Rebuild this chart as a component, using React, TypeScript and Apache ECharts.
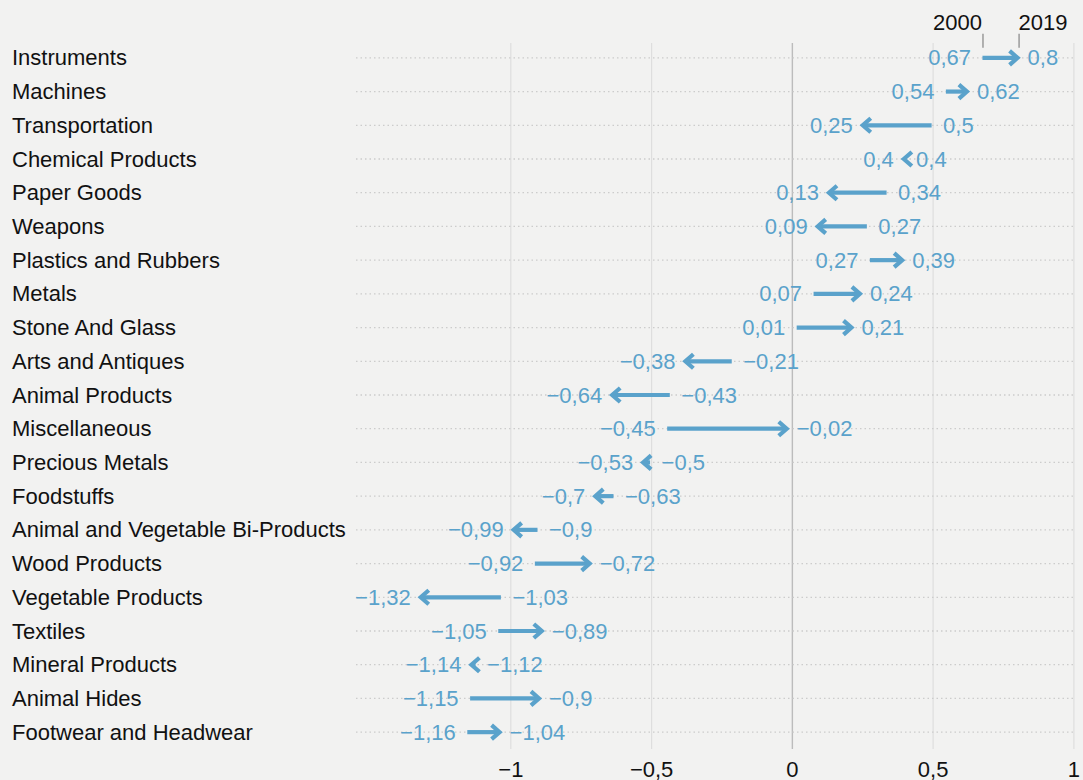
import React, { useEffect, useRef } from 'react';
import * as echarts from 'echarts';

const categories = [
  'Instruments',
  'Machines',
  'Transportation',
  'Chemical Products',
  'Paper Goods',
  'Weapons',
  'Plastics and Rubbers',
  'Metals',
  'Stone And Glass',
  'Arts and Antiques',
  'Animal Products',
  'Miscellaneous',
  'Precious Metals',
  'Foodstuffs',
  'Animal and Vegetable Bi-Products',
  'Wood Products',
  'Vegetable Products',
  'Textiles',
  'Mineral Products',
  'Animal Hides',
  'Footwear and Headwear',
];

const values2000 = [
  0.67, 0.54, 0.5, 0.404, 0.34, 0.27, 0.27, 0.07, 0.01, -0.21, -0.43,
  -0.45, -0.5, -0.63, -0.9, -0.92, -1.03, -1.05, -1.12, -1.15, -1.16,
];

const values2019 = [
  0.8, 0.62, 0.25, 0.396, 0.13, 0.09, 0.39, 0.24, 0.21, -0.38, -0.64,
  -0.02, -0.53, -0.7, -0.99, -0.72, -1.32, -0.89, -1.14, -0.9, -1.04,
];

const years = ['2000', '2019'];
const xTicks = [-1, -0.5, 0, 0.5, 1];
const xMin = -1.55;
const xMax = 1;

const BLUE = '#5aa2cb';
const TEXT = '#111111';
const BG = '#f2f2f1';
const FONT = '"Liberation Sans", Arial, Helvetica, sans-serif';
const FS = 22;

function fmt(v: number): string {
  const r = Math.round(v * 100) / 100;
  return String(r).replace('.', ',').replace('-', '\u2212');
}

export default function App() {
  const ref = useRef<HTMLDivElement>(null);

  useEffect(() => {
    if (!ref.current) return;
    const chart = echarts.init(ref.current, undefined, { renderer: 'svg' });

    const arrowData = categories.map((_, i) => [i, values2000[i], values2019[i]]);
    const vlineData = xTicks.map((v) => [v, 0]);

    const option: any = {
      animation: false,
      backgroundColor: BG,
      grid: { left: 356, right: 7, top: 41, bottom: 29, containLabel: false },
      xAxis: {
        type: 'value',
        min: xMin,
        max: xMax,
        axisLine: { show: false },
        axisTick: { show: false },
        splitLine: { show: false },
        axisLabel: {
          customValues: xTicks,
          margin: 9,
          fontSize: FS,
          fontFamily: FONT,
          color: TEXT,
          formatter: (v: number) => {
            const ok = xTicks.some((t) => Math.abs(t - v) < 1e-6);
            return ok ? fmt(v) : '';
          },
        },
      },
      yAxis: {
        type: 'category',
        inverse: true,
        data: categories,
        axisLine: { show: false },
        axisTick: { show: false },
        splitLine: { show: false },
        axisLabel: {
          align: 'left',
          margin: 344,
          fontSize: FS,
          fontFamily: FONT,
          color: TEXT,
        },
      },
      series: [
        {
          type: 'custom',
          silent: true,
          z: 1,
          data: vlineData,
          encode: { x: 0, y: 1 },
          renderItem: (params: any, api: any) => {
            const v = api.value(0) as number;
            const p = api.coord([v, 0]);
            const cs = params.coordSys;
            const isZero = Math.abs(v) < 1e-9;
            return {
              type: 'line',
              shape: { x1: p[0], y1: cs.y + 2, x2: p[0], y2: cs.y + cs.height },
              style: {
                stroke: isZero ? '#bcbcbc' : '#dedede',
                lineWidth: isZero ? 1.4 : 1.2,
              },
            };
          },
        },
        {
          type: 'custom',
          silent: true,
          z: 2,
          data: arrowData,
          encode: { x: [1, 2], y: 0 },
          renderItem: (params: any, api: any) => {
            const idx = api.value(0) as number;
            const a = api.value(1) as number;
            const b = api.value(2) as number;
            const p1 = api.coord([a, idx]);
            const p2 = api.coord([b, idx]);
            const y = p1[1];
            const cs = params.coordSys;
            const dir = p2[0] > p1[0] ? 1 : -1;
            const children: any[] = [];

            children.push({
              type: 'line',
              z2: 0,
              shape: { x1: cs.x, y1: y, x2: cs.x + cs.width, y2: y },
              style: { stroke: '#cccccc', lineWidth: 1.3, lineDash: [1.5, 3] },
            });

            const sx1 = p1[0] + dir * 1.5;
            const sx2 = p2[0] - dir * 2;
            if ((sx2 - sx1) * dir > 0) {
              children.push({
                type: 'line',
                z2: 2,
                shape: { x1: sx1, y1: y, x2: sx2, y2: y },
                style: { stroke: BLUE, lineWidth: 4.2, lineCap: 'butt' },
              });
            }
            children.push({
              type: 'polyline',
              z2: 2,
              shape: {
                points: [
                  [p2[0] - dir * 8, y - 7],
                  [p2[0], y],
                  [p2[0] - dir * 8, y + 7],
                ],
              },
              style: { stroke: BLUE, fill: null, lineWidth: 4.2, lineJoin: 'miter', lineCap: 'butt' },
            });

            const leftIsStart = p1[0] <= p2[0];
            const leftX = Math.min(p1[0], p2[0]);
            const rightX = Math.max(p1[0], p2[0]);
            const leftVal = leftIsStart ? a : b;
            const rightVal = leftIsStart ? b : a;

            children.push({
              type: 'text',
              z2: 3,
              x: leftX - 10,
              y: y,
              style: {
                text: fmt(leftVal),
                fill: BLUE,
                fontSize: FS,
                fontFamily: FONT,
                align: 'right',
                verticalAlign: 'middle',
              },
            });
            children.push({
              type: 'text',
              z2: 3,
              x: rightX + 10,
              y: y,
              style: {
                text: fmt(rightVal),
                fill: BLUE,
                fontSize: FS,
                fontFamily: FONT,
                align: 'left',
                verticalAlign: 'middle',
              },
            });

            if (idx === 0) {
              const leftYear = leftIsStart ? years[0] : years[1];
              const rightYear = leftIsStart ? years[1] : years[0];
              const rx = rightX + 1.5;
              children.push({
                type: 'line',
                shape: { x1: leftX + 2, y1: y - 24, x2: leftX + 2, y2: y - 10 },
                style: { stroke: '#9a9a9a', lineWidth: 1.5 },
              });
              children.push({
                type: 'line',
                shape: { x1: rx, y1: y - 24, x2: rx, y2: y - 10 },
                style: { stroke: '#9a9a9a', lineWidth: 1.5 },
              });
              children.push({
                type: 'text',
                x: leftX + 1,
                y: y - 35,
                style: {
                  text: leftYear,
                  fill: TEXT,
                  fontSize: FS,
                  fontFamily: FONT,
                  align: 'right',
                  verticalAlign: 'middle',
                },
              });
              children.push({
                type: 'text',
                x: rightX + 1,
                y: y - 35,
                style: {
                  text: rightYear,
                  fill: TEXT,
                  fontSize: FS,
                  fontFamily: FONT,
                  align: 'left',
                  verticalAlign: 'middle',
                },
              });
            }

            return { type: 'group', children };
          },
        },
      ],
    };

    chart.setOption(option);
    return () => chart.dispose();
  }, []);

  return (
    <div
      style={{
        position: 'absolute',
        left: 0,
        top: 0,
        width: 1083,
        height: 780,
        background: BG,
      }}
    >
      <div ref={ref} style={{ width: 1083, height: 780 }} />
    </div>
  );
}
